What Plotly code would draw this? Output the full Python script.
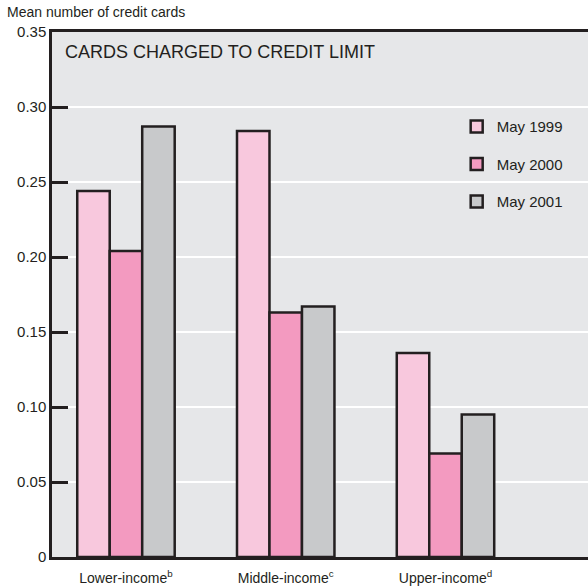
import plotly.graph_objects as go

# chart data
categories = ['Lower-income<sup>b</sup>', 'Middle-income<sup>c</sup>', 'Upper-income<sup>d</sup>']
may_1999 = [0.244, 0.284, 0.136]
may_2000 = [0.204, 0.163, 0.069]
may_2001 = [0.287, 0.167, 0.095]
y_ticks = [0, 0.05, 0.10, 0.15, 0.20, 0.25, 0.30, 0.35]
y_tick_labels = ['0', '0.05', '0.10', '0.15', '0.20', '0.25', '0.30', '0.35']

INK = '#231f20'
SANS = 'Liberation Sans, Arial, sans-serif'

fig = go.Figure()

series = [
    ('May 1999', may_1999, '#f8c8dd'),
    ('May 2000', may_2000, '#f39ac0'),
    ('May 2001', may_2001, '#c8c9cb'),
]
for name, values, color in series:
    fig.add_trace(
        go.Bar(
            x=list(range(len(categories))),
            y=values,
            name=name,
            legendgroup=name,
            marker=dict(color=color, line=dict(color=INK, width=2.5)),
        )
    )

fig.update_layout(
    width=588,
    height=586,
    margin=dict(l=52, r=0, t=32, b=29),
    paper_bgcolor='white',
    plot_bgcolor='#e6e7e9',
    barmode='group',
    bargap=0.39,
    bargroupgap=0,
    font=dict(family=SANS, color=INK, size=14),
    legend=dict(
        x=0.755,
        y=0.851,
        xanchor='left',
        yanchor='top',
        bgcolor='rgba(0,0,0,0)',
        font=dict(family=SANS, size=15, color=INK),
        traceorder='grouped',
        tracegroupgap=15,
    ),
    xaxis=dict(
        range=[-0.463, 2.892],
        tickvals=list(range(len(categories))),
        ticktext=categories,
        showgrid=False,
        showline=True,
        linecolor=INK,
        linewidth=2.5,
        mirror=True,
        ticks='',
        tickfont=dict(family=SANS, size=14, color=INK),
        ticklabelstandoff=6,
        fixedrange=True,
    ),
    yaxis=dict(
        range=[0, 0.35],
        tickvals=y_ticks,
        ticktext=y_tick_labels,
        showgrid=True,
        gridcolor='white',
        gridwidth=2,
        zeroline=False,
        showline=True,
        linecolor=INK,
        linewidth=2.5,
        ticks='inside',
        ticklen=16,
        tickwidth=2.5,
        tickcolor=INK,
        tickfont=dict(family=SANS, size=15, color=INK),
        ticklabelstandoff=0,
    ),
    annotations=[
        dict(
            text='Mean number of credit cards',
            xref='paper', yref='paper',
            x=-0.0877, y=1.038,
            xanchor='left', yanchor='middle',
            showarrow=False,
            font=dict(family=SANS, size=14, color=INK),
        ),
        dict(
            text='CARDS CHARGED TO CREDIT LIMIT',
            xref='paper', yref='paper',
            x=0.02, y=0.9855,
            xanchor='left', yanchor='top',
            showarrow=False,
            font=dict(family=SANS, size=18, color=INK),
        ),
    ],
)

fig.write_html(
    'out.html',
    config={'displayModeBar': False},
    post_script="document.body.style.margin='0';",
)
